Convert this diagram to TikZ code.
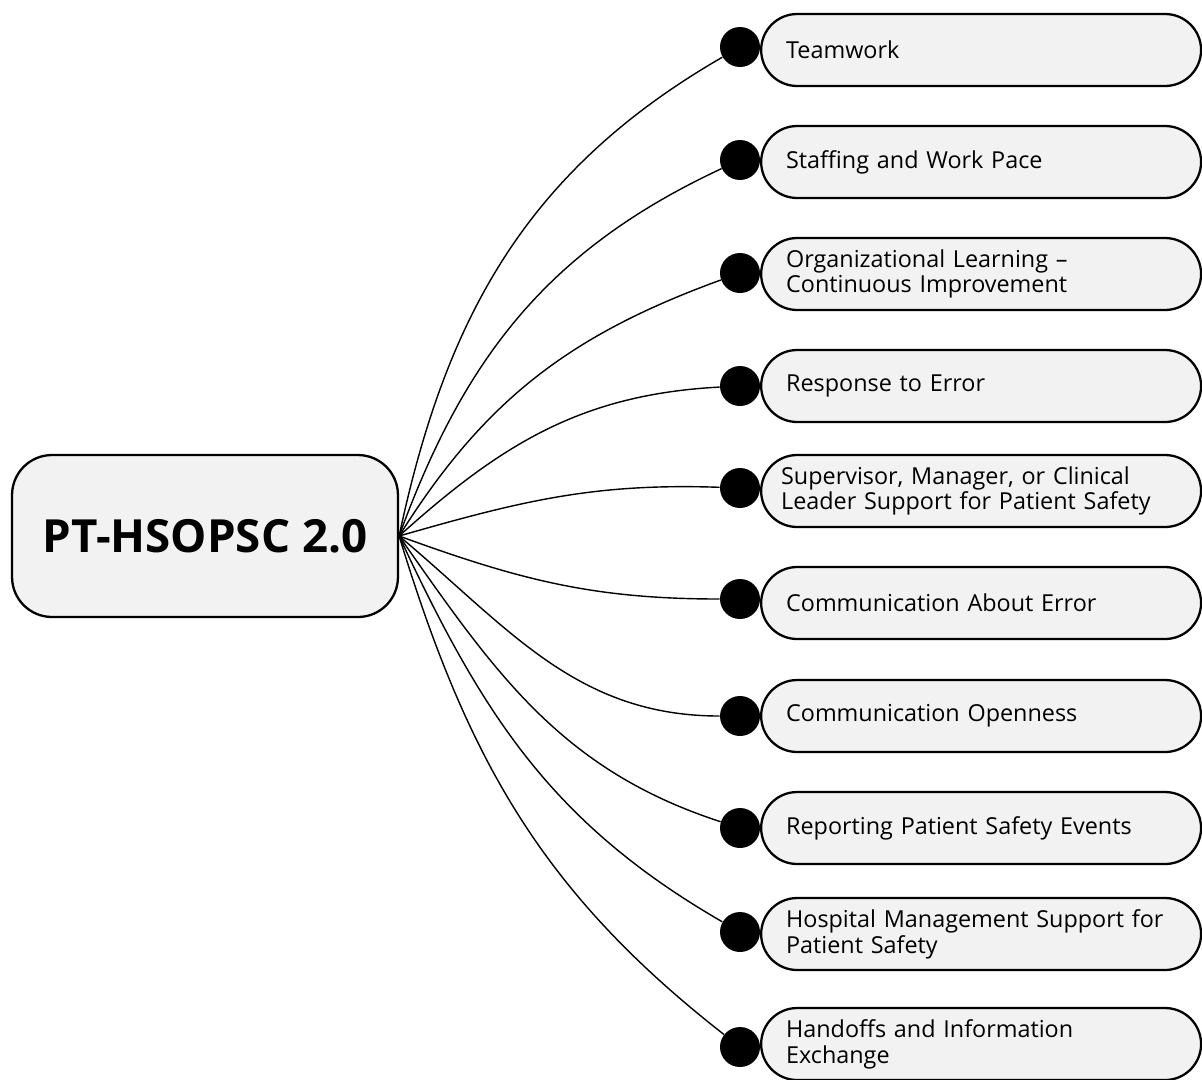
\documentclass[tikz,border=0pt]{standalone}
\usepackage{fontspec}
\setmainfont{Open Sans}
\usepackage{xcolor}
\usepackage{tikz}
\usetikzlibrary{positioning, calc}
\definecolor{boxgray}{HTML}{F2F2F2}
\tikzstyle{hub} = [rectangle, rounded corners=0.8cm, minimum width=7.72cm, minimum height=3.24cm, text centered, draw=black, fill=boxgray, line width=1.3pt, font=\fontsize{26}{30}\selectfont\bfseries]
\tikzstyle{factor} = [rectangle, rounded corners=0.72cm, text width=7.8cm, minimum height=1.44cm, inner xsep=0.5cm, align=left, draw=black, fill=boxgray, line width=1.3pt, font=\fontsize{13.3}{14.7}\selectfont]
\tikzstyle{knob} = [circle, fill=black, minimum size=0.8cm, inner sep=0pt]
\tikzstyle{branch} = [line width=0.8pt]

\begin{document}
\begin{tikzpicture}[x=0.02cm, y=-0.02cm]
\useasboundingbox (0,0) rectangle (1202,1079);
\node [hub] (root) at (205,536) {PT-HSOPSC 2.0};

\node [factor, anchor=west] (f1) at (760,50) {Teamwork};
\node [factor, anchor=west] (f2) at (760,162) {Staffing and Work Pace};
\node [factor, anchor=west] (f3) at (760,274) {Organizational Learning --\\Continuous Improvement};
\node [factor, anchor=west] (f4) at (760,386) {Response to Error};
\node [factor, anchor=west, inner xsep=0.4cm, text width=8cm] (f5) at (760,491) {Supervisor, Manager, or Clinical\\Leader Support for Patient Safety};
\node [factor, anchor=west] (f6) at (760,603) {Communication About Error};
\node [factor, anchor=west] (f7) at (760,716) {Communication Openness};
\node [factor, anchor=west] (f8) at (760,828) {Reporting Patient Safety Events};
\node [factor, anchor=west] (f9) at (760,934) {Hospital Management Support for\\Patient Safety};
\node [factor, anchor=west] (f10) at (760,1044) {Handoffs and Information\\Exchange};

\node [knob] (d1) at (740,47) {};
\node [knob] (d2) at (740,160) {};
\node [knob] (d3) at (740,273) {};
\node [knob] (d4) at (740,386) {};
\node [knob] (d5) at (740,488) {};
\node [knob] (d6) at (740,599) {};
\node [knob] (d7) at (740,716) {};
\node [knob] (d8) at (740,828) {};
\node [knob] (d9) at (740,932) {};
\node [knob] (d10) at (740,1047) {};

\draw [branch] (root.east) to[out=78, in=210] (d1);
\draw [branch] (root.east) to[out=70, in=205] (d2);
\draw [branch] (root.east) to[out=58, in=200] (d3);
\draw [branch] (root.east) to[out=42, in=183] (d4);
\draw [branch] (root.east) to[out=16, in=178] (d5);
\draw [branch] (root.east) to[out=-20, in=180] (d6);
\draw [branch] (root.east) to[out=-40, in=180] (d7);
\draw [branch] (root.east) to[out=-55, in=162] (d8);
\draw [branch] (root.east) to[out=-65, in=150] (d9);
\draw [branch] (root.east) to[out=-73, in=142] (d10);
\end{tikzpicture}
\end{document}
